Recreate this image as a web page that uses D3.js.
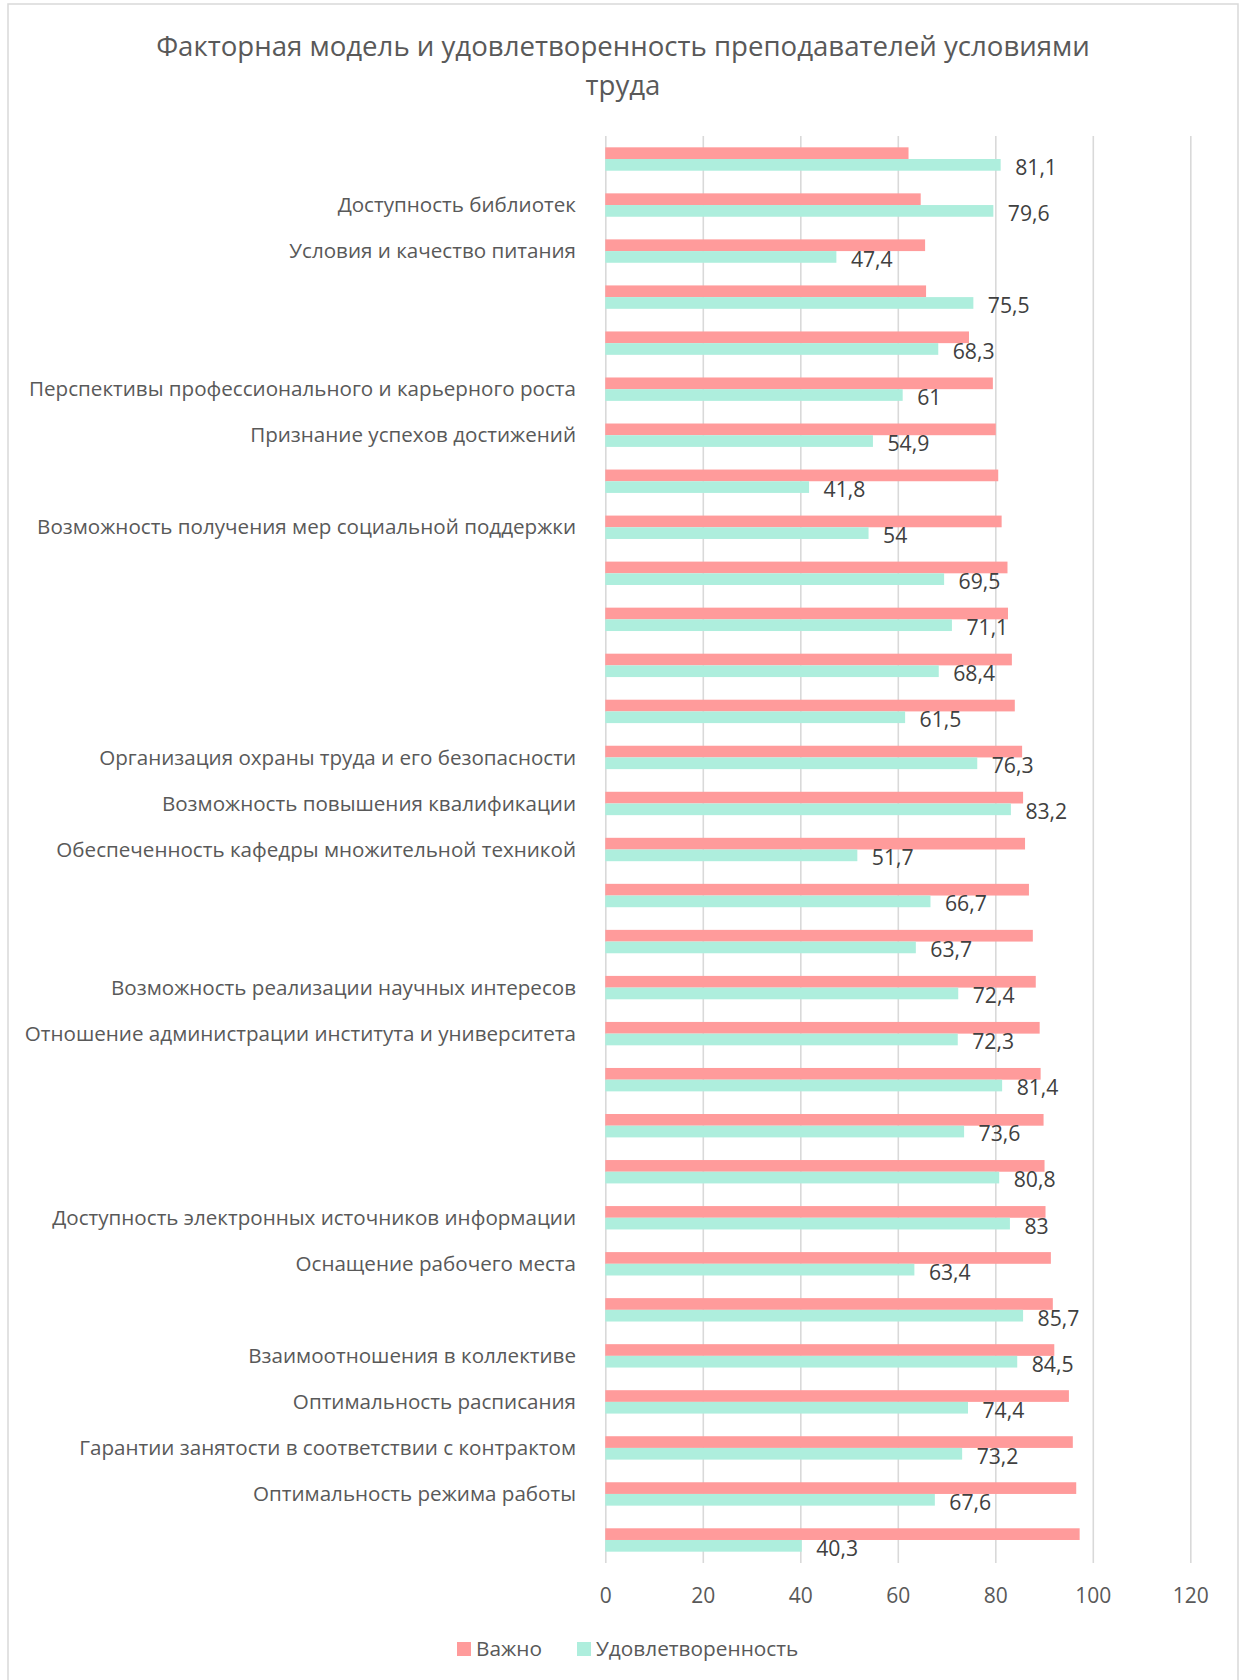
<!DOCTYPE html>
<html>
<head>
<meta charset="utf-8">
<script src="https://cdn.jsdelivr.net/npm/d3@7/dist/d3.min.js"></script>
<style>
  html, body { margin: 0; padding: 0; background: #fff; }
  svg { display: block; font-family: "Open Sans", "Noto Sans", sans-serif; }
</style>
</head>
<body>
<svg id="chart" width="1242" height="1680"></svg>
<script>
const titleLines = ["Факторная модель и удовлетворенность преподавателей условиями", "труда"];
const categories = [
  "", "Доступность библиотек", "Условия и качество питания", "", "",
  "Перспективы профессионального и карьерного роста", "Признание успехов достижений", "",
  "Возможность получения мер социальной поддержки", "", "", "", "",
  "Организация охраны труда и его безопасности", "Возможность повышения квалификации",
  "Обеспеченность кафедры множительной техникой", "", "",
  "Возможность реализации научных интересов", "Отношение администрации института и университета",
  "", "", "", "Доступность электронных источников информации", "Оснащение рабочего места", "",
  "Взаимоотношения в коллективе", "Оптимальность расписания",
  "Гарантии занятости в соответствии с контрактом", "Оптимальность режима работы", ""
];
const seriesNames = ["Важно", "Удовлетворенность"];
const important = [62.2, 64.7, 65.6, 65.8, 74.6, 79.5, 80.1, 80.6, 81.3, 82.5, 82.6, 83.4, 84.0, 85.5, 85.7, 86.1,
  86.9, 87.7, 88.3, 89.1, 89.3, 89.9, 90.1, 90.3, 91.4, 91.8, 92.1, 95.1, 95.9, 96.6, 97.3];
const satisfaction = [81.1, 79.6, 47.4, 75.5, 68.3, 61, 54.9, 41.8, 54, 69.5, 71.1, 68.4, 61.5, 76.3, 83.2, 51.7,
  66.7, 63.7, 72.4, 72.3, 81.4, 73.6, 80.8, 83, 63.4, 85.7, 84.5, 74.4, 73.2, 67.6, 40.3];
const xTicks = [0, 20, 40, 60, 80, 100, 120];
const colors = ["#ff9b9b", "#aeeedd"];

const svg = d3.select("#chart");
const plot = { left: 605.3, right: 1190.3, top: 136, bottom: 1563 };

// chart border
svg.append("rect").attr("x", 8).attr("y", 4).attr("width", 1230).attr("height", 1700)
  .attr("fill", "#fff").attr("stroke", "#d9d9d9").attr("stroke-width", 1.5);

// title
svg.append("g").selectAll("text").data(titleLines).join("text")
  .attr("x", 623).attr("y", (d, i) => 46 + i * 39).attr("dy", "0.35em")
  .attr("text-anchor", "middle").attr("font-size", 27.6).attr("fill", "#595959").text(d => d);

const x = d3.scaleLinear().domain([0, 120]).range([plot.left, plot.right]);
const y = d3.scaleBand().domain(d3.range(categories.length)).range([plot.top, plot.bottom])
  .paddingInner(0.492).paddingOuter(0.246);
const ySub = d3.scaleBand().domain(seriesNames).range([0, y.bandwidth()]);

// gridlines
const grid = svg.append("g").attr("transform", `translate(0,${plot.bottom})`)
  .call(d3.axisBottom(x).tickValues(xTicks).tickSize(-(plot.bottom - plot.top)).tickFormat(""));
grid.select(".domain").remove();
grid.selectAll("line").attr("stroke", "#d9d9d9").attr("stroke-width", 1.6);

// x tick labels
const xAxis = svg.append("g").attr("transform", `translate(0,${plot.bottom})`)
  .call(d3.axisBottom(x).tickValues(xTicks).tickSize(0).tickPadding(25));
xAxis.select(".domain").remove();
xAxis.selectAll("text").attr("font-size", 21).attr("fill", "#595959").attr("font-family", "Open Sans, sans-serif");

// bars
const rows = categories.map((c, i) => ({ i, c, vals: [important[i], satisfaction[i]] }));
const groups = svg.append("g").selectAll("g").data(rows).join("g")
  .attr("transform", d => `translate(0,${y(d.i)})`);
groups.selectAll("rect").data(d => d.vals.map((v, k) => ({ k, v }))).join("rect")
  .attr("x", x(0)).attr("y", d => ySub(seriesNames[d.k]))
  .attr("width", d => x(d.v) - x(0)).attr("height", ySub.bandwidth())
  .attr("fill", d => colors[d.k]);

// data labels (satisfaction)
groups.append("text")
  .attr("x", d => x(d.vals[1]) + 14.5)
  .attr("y", ySub(seriesNames[1]) + ySub.bandwidth() / 2 + 2.5)
  .attr("dy", "0.35em").attr("font-size", 21.2).attr("fill", "#404040")
  .text(d => String(d.vals[1]).replace(".", ","));

// category labels
svg.append("g").selectAll("text").data(rows).join("text")
  .attr("x", 576).attr("y", d => y(d.i) + y.bandwidth() / 2).attr("dy", "0.35em")
  .attr("text-anchor", "end").attr("font-size", 20.6).attr("fill", "#595959").text(d => d.c);

// legend
const legendPos = [457, 577];
const lg = svg.append("g").selectAll("g").data(seriesNames).join("g")
  .attr("transform", (d, i) => `translate(${legendPos[i]},1649)`);
lg.append("rect").attr("x", 0).attr("y", -7).attr("width", 14).attr("height", 14).attr("fill", (d, i) => colors[i]);
lg.append("text").attr("x", 19).attr("y", 0).attr("dy", "0.35em").attr("font-size", 20.8)
  .attr("fill", "#595959").text(d => d);
</script>
</body>
</html>
